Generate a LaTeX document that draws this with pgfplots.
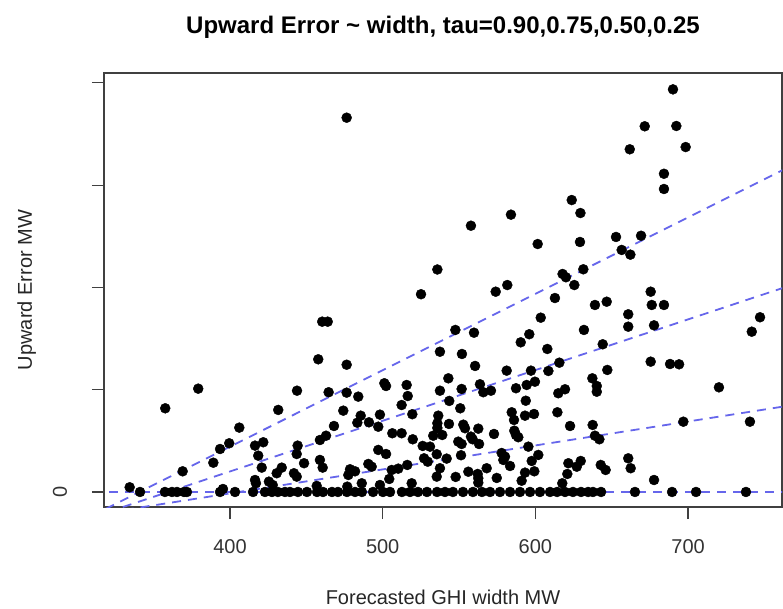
\documentclass[border=0pt]{standalone}
\usepackage{pgfplots}
\pgfplotsset{compat=1.18}
\usepackage{fontspec}
\setmainfont{Liberation Sans}
\definecolor{qline}{rgb}{0.40,0.40,0.92}
\definecolor{axgray}{rgb}{0.25,0.25,0.25}

\begin{document}
\begin{tikzpicture}
\begin{axis}[
  at={(104pt,101pt)}, anchor=south west,
  scale only axis, width=678pt, height=434pt,
  xmin=317.5, xmax=761.5, ymin=-14.7, ymax=409.6,
  axis line style={axgray, line width=1.2pt},
  tick style={axgray, line width=1.2pt},
  tick align=outside, major tick length=12pt,
  xtick={400,500,600,700}, ytick={0,100,200,300,400},
  yticklabels={0,,,,},
  xtick pos=bottom, ytick pos=left,
  /pgf/number format/assume math mode=true,
  ticklabel style={font=\fontsize{20pt}{24pt}\selectfont, text=black!80},
  xticklabel style={anchor=base, yshift=-34pt},
  yticklabel style={rotate=90, anchor=base, xshift=0pt, yshift=25pt},
  title={Upward Error \textasciitilde{} width, tau=0.90,0.75,0.50,0.25},
  title style={font=\fontsize{24pt}{28pt}\selectfont\bfseries,
    at={(axis description cs:0.5,1.0783)}, anchor=base},
  xlabel={Forecasted GHI width MW},
  xlabel style={font=\fontsize{20pt}{24pt}\selectfont, text=black!85,
    at={(axis description cs:0.5,-0.2235)}, anchor=base},
  ylabel={Upward Error MW},
  ylabel style={font=\fontsize{20pt}{24pt}\selectfont, text=black!85,
    at={(axis description cs:-0.1062,0.5)}, anchor=base},
]
% observations: forecast interval width vs. upward error
\addplot[only marks, mark=*, mark size=5pt, mark options={fill=black, draw=black}]
table {
x y
476.4 365.9
623.8 285.4
629.5 272.7
584.0 271.1
557.8 260.3
601.5 242.4
629.2 244.4
535.8 217.5
617.8 213.1
690.1 393.6
671.6 357.5
692.3 357.8
661.8 335.0
698.4 337.2
684.2 311.1
684.2 296.2
652.8 249.3
669.2 250.5
656.5 236.6
662.2 232.0
631.4 217.7
525.1 193.3
574.0 195.8
581.6 202.3
620.0 209.9
625.5 202.3
612.8 189.6
603.5 170.4
547.6 158.4
559.8 155.7
590.4 146.3
596.0 154.2
607.8 139.8
537.5 137.1
551.9 134.9
476.4 124.4
560.5 123.2
615.7 126.4
581.2 118.6
597.1 118.6
608.5 118.3
543.0 111.1
501.1 106.3
502.2 103.6
515.7 104.6
563.7 105.3
594.3 104.6
599.7 107.8
476.4 97.1
484.0 93.2
516.4 93.8
537.5 99.0
543.6 89.0
551.7 100.7
565.9 97.5
570.9 99.0
587.3 101.4
593.7 89.2
615.0 96.5
619.4 100.4
512.4 85.0
550.8 81.8
474.2 79.5
485.6 74.6
498.2 75.6
519.4 76.0
536.4 74.6
584.5 77.9
586.0 70.4
593.2 74.6
599.1 76.2
614.4 77.9
483.4 67.7
491.0 68.1
497.1 63.8
468.1 64.5
535.8 67.2
535.8 62.6
543.4 66.5
552.8 65.8
553.9 62.3
562.6 61.9
622.7 64.5
506.3 57.4
512.4 57.4
533.1 55.0
539.0 55.7
557.8 54.1
572.9 56.7
586.2 59.9
587.3 55.7
588.8 53.5
519.7 51.5
549.5 49.2
551.7 46.9
558.9 51.5
563.1 46.9
526.2 45.0
531.0 44.3
497.1 41.1
502.2 37.1
535.4 36.9
551.3 35.9
577.9 38.1
580.1 34.5
595.4 44.3
601.9 36.2
527.1 32.9
529.5 29.6
541.9 32.6
579.0 31.3
583.4 25.4
597.6 30.3
490.6 27.4
492.8 24.7
516.1 26.4
537.5 23.2
478.6 22.2
481.9 20.2
505.9 21.5
510.2 22.8
556.1 19.8
562.2 17.6
568.1 23.2
593.2 18.9
599.3 20.2
621.6 28.1
627.1 24.7
477.5 16.6
504.3 12.7
535.4 15.0
547.8 14.7
562.6 13.4
562.6 9.1
574.7 13.7
591.0 11.0
620.9 17.6
617.6 8.5
486.3 8.5
498.2 6.8
519.0 8.5
476.8 5.2
460.4 166.5
464.0 166.5
457.8 129.7
443.9 99.0
464.6 97.5
379.2 101.0
357.6 81.8
431.6 80.2
406.1 62.9
458.9 50.8
462.9 55.0
393.5 42.0
399.5 47.6
416.4 45.3
421.8 48.6
418.5 35.5
444.3 45.3
443.7 37.1
389.1 28.6
420.8 23.8
433.9 23.8
448.5 28.1
430.6 18.3
441.9 18.3
443.7 15.0
458.9 31.3
460.7 23.8
369.0 20.2
416.4 11.7
417.0 8.5
425.5 10.1
428.0 6.8
456.8 5.9
334.3 4.6
675.5 195.8
639.0 182.8
646.7 186.0
676.2 182.8
684.2 182.8
660.8 173.7
660.8 161.6
677.7 162.9
631.8 158.4
747.1 170.8
741.7 156.7
644.1 144.4
675.5 127.4
688.2 125.1
694.1 124.8
647.1 119.3
637.3 111.1
640.2 103.6
640.2 98.0
720.2 102.3
696.9 68.7
740.5 68.7
637.5 65.5
639.0 55.0
641.9 51.5
660.8 32.9
662.4 23.2
629.7 30.3
642.8 26.4
646.0 21.5
677.7 11.7
395.4 2.9
341.1 0
357.4 0
362.0 0
365.3 0
369.9 0
371.8 0
393.5 0
403.3 0
415.1 0
422.9 0
427.5 0
431.4 0
436.0 0
439.3 0
444.5 0
450.4 0
457.0 0
460.9 0
466.8 0
470.7 0
476.6 0
481.9 0
486.4 0
493.7 0
500.2 0
504.8 0
512.6 0
517.9 0
523.1 0
529.0 0
535.6 0
540.8 0
546.0 0
552.6 0
559.1 0
565.0 0
570.3 0
576.8 0
583.4 0
589.9 0
596.5 0
603.0 0
609.6 0
614.2 0
619.4 0
624.6 0
629.9 0
634.5 0
637.7 0
643.0 0
665.2 0
689.5 0
705.2 0
737.9 0
};
% fitted quantile lines, tau = 0.90, 0.75, 0.50, 0.25
\addplot[qline, line width=1.8pt, dash pattern=on 9pt off 7pt] coordinates {(300,-30.4) (770,320.7)};
\addplot[qline, line width=1.8pt, dash pattern=on 9pt off 7pt] coordinates {(300,-29.5) (770,203.4)};
\addplot[qline, line width=1.8pt, dash pattern=on 9pt off 7pt] coordinates {(300,-24.8) (770,85.3)};
\addplot[qline, line width=1.8pt, dash pattern=on 9pt off 7pt] coordinates {(300,0) (770,0)};
\end{axis}
\pgfresetboundingbox
\path[use as bounding box] (0,0) rectangle (783pt,608pt);
\end{tikzpicture}
\end{document}
